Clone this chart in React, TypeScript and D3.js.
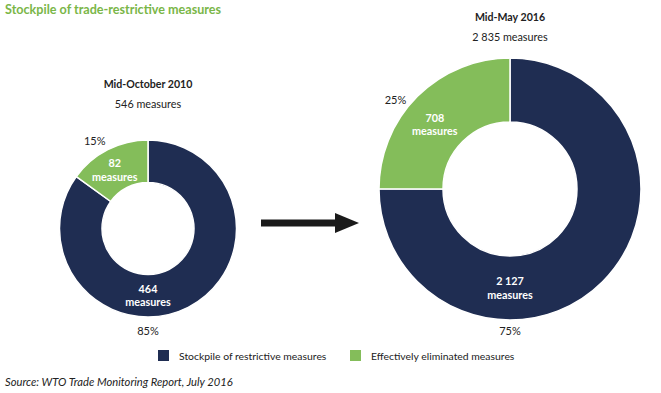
import React from "react";
import * as d3 from "d3";

const categories = ["Stockpile of restrictive measures", "Effectively eliminated measures"];
const colors = ["#1f2d52", "#84bd5a"];
const periods = ["Mid-October 2010", "Mid-May 2016"];
const totals = ["546 measures", "2 835 measures"];
const restrictive = [464, 2127];
const eliminated = [82, 708];
const restrictiveLabels = ["464", "2 127"];
const eliminatedLabels = ["82", "708"];
const restrictivePct = ["85%", "75%"];
const eliminatedPct = ["15%", "25%"];

const FONT = "Lato, 'Open Sans', sans-serif";

export default function App() {
  const donuts = [
    { cx: 148, cy: 228.5, r: 88.5, ri: 46, titleY: 88, gap: 14 },
    { cx: 510, cy: 189, r: 131, ri: 67, titleY: 21, gap: 11 },
  ];
  const pie = d3.pie<number>().sort(null).value((d) => d);

  const polar = (angle: number, radius: number) => [Math.sin(angle) * radius, -Math.cos(angle) * radius];

  return (
    <svg width={661} height={393} style={{ position: "absolute", left: 0, top: 0, fontFamily: FONT }}>
      <rect width={661} height={393} fill="#fff" />
      <text x={5} y={14} fill="#7ab648" fontWeight="bold" fontSize={12.6}>
        Stockpile of trade-restrictive measures
      </text>
      {donuts.map((g, i) => {
        const arcs = pie([restrictive[i], eliminated[i]]);
        const arc = d3.arc<d3.PieArcDatum<number>>().innerRadius(g.ri).outerRadius(g.r);
        const midR = (g.r + g.ri) / 2;
        const labelPos = arcs.map((a, k) => {
          if (k === 0) return [0, midR];
          return polar(a.startAngle + 0.45 * (a.endAngle - a.startAngle), midR);
        });
        const pctPos = arcs.map((a, k) => {
          if (k === 0) return [0, g.r + g.gap];
          return polar(a.startAngle + 0.42 * (a.endAngle - a.startAngle), g.r + 14);
        });
        return (
          <g key={i}>
            <text x={g.cx} y={g.titleY} textAnchor="middle" fontWeight="bold" fontSize={10.6} fill="#222">
              {periods[i]}
            </text>
            <text x={g.cx} y={g.titleY + 20} textAnchor="middle" fontSize={10.8} fill="#222">
              {totals[i]}
            </text>
            <g transform={`translate(${g.cx},${g.cy})`}>
              {arcs.map((a, k) => (
                <path key={k} d={arc(a) || ""} fill={colors[k]} stroke="#fff" strokeWidth={1.5} />
              ))}
              {arcs.map((a, k) => (
                <text
                  key={"l" + k}
                  x={labelPos[k][0]}
                  y={labelPos[k][1]}
                  textAnchor="middle"
                  fill="#fff"
                  fontWeight="bold"
                  fontSize={10.8}
                >
                  <tspan x={labelPos[k][0]} dy={-3}>
                    {k === 0 ? restrictiveLabels[i] : eliminatedLabels[i]}
                  </tspan>
                  <tspan x={labelPos[k][0]} dy={13.5}>measures</tspan>
                </text>
              ))}
              {arcs.map((a, k) => (
                <text
                  key={"p" + k}
                  x={pctPos[k][0]}
                  y={pctPos[k][1]}
                  textAnchor="middle"
                  fill="#222"
                  fontSize={11}
                  dy="0.35em"
                >
                  {k === 0 ? restrictivePct[i] : eliminatedPct[i]}
                </text>
              ))}
            </g>
          </g>
        );
      })}
      <rect x={261} y={219.5} width={76} height={7} fill="#1a1a1a" />
      <path d="M335,213 L359,223 L335,233 Z" fill="#1a1a1a" />
      {categories.map((c, k) => (
        <g key={c} transform={`translate(${158 + k * 192},350)`}>
          <rect width={11} height={11} fill={colors[k]} />
          <text x={21} y={9.5} fontSize={10.4} fill="#222">
            {c}
          </text>
        </g>
      ))}
      <text x={5} y={386} fontStyle="italic" fontSize={11.2} fill="#222">
        Source: WTO Trade Monitoring Report, July 2016
      </text>
    </svg>
  );
}
